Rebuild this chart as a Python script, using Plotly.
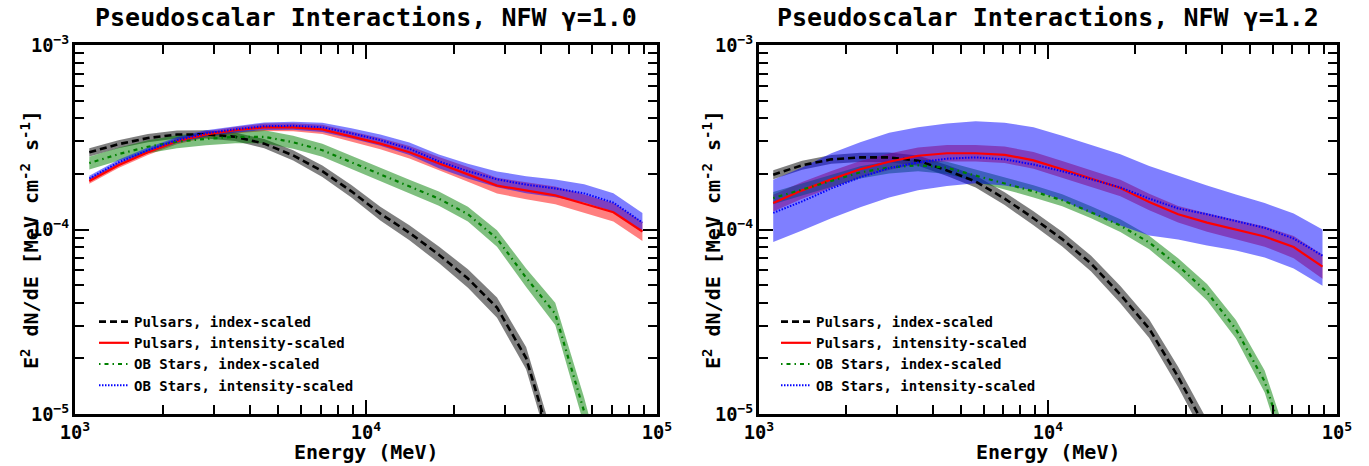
import plotly.graph_objects as go

FONT = "DejaVu Sans Mono"

# Energy grid (MeV)
energy = [1120, 1410, 1780, 2240, 2820, 3550, 4470, 5620, 7080, 8910,
          11200, 14100, 17800, 22400, 28200, 35500, 44700, 56200, 70800, 89100]

# ---- Left panel: NFW gamma = 1.0 ----
L_psr_idx = [2.62e-4, 2.90e-4, 3.13e-4, 3.27e-4, 3.28e-4, 3.18e-4, 2.92e-4, 2.52e-4, 2.07e-4, 1.61e-4,
             1.22e-4, 9.6e-5, 7.3e-5, 5.42e-5, 3.77e-5, 2.01e-5, 5.9e-6, 1.4e-6, 4e-7, 1e-7]
L_psr_int = [1.83e-4, 2.23e-4, 2.62e-4, 3.01e-4, 3.28e-4, 3.45e-4, 3.58e-4, 3.58e-4, 3.49e-4, 3.20e-4,
             2.92e-4, 2.62e-4, 2.27e-4, 1.99e-4, 1.73e-4, 1.62e-4, 1.53e-4, 1.38e-4, 1.24e-4, 9.75e-5]
L_ob_idx = [2.29e-4, 2.56e-4, 2.81e-4, 2.99e-4, 3.10e-4, 3.18e-4, 3.18e-4, 2.97e-4, 2.69e-4, 2.31e-4,
            1.99e-4, 1.71e-4, 1.47e-4, 1.21e-4, 8.93e-5, 5.48e-5, 3.49e-5, 1.03e-5, 2.6e-6, 6.6e-7]
L_ob_int = [1.89e-4, 2.31e-4, 2.69e-4, 3.05e-4, 3.32e-4, 3.49e-4, 3.63e-4, 3.65e-4, 3.58e-4, 3.32e-4,
            3.05e-4, 2.74e-4, 2.34e-4, 2.07e-4, 1.87e-4, 1.75e-4, 1.67e-4, 1.57e-4, 1.40e-4, 1.09e-4]
# band half-widths (dex)
L_psr_idx_w = [0.022, 0.022, 0.022, 0.022, 0.022, 0.023, 0.025, 0.028, 0.031, 0.034,
               0.037, 0.041, 0.045, 0.05, 0.055, 0.06, 0.065, 0.07, 0.07, 0.07]
L_psr_int_w = [0.015, 0.015, 0.015, 0.016, 0.017, 0.018, 0.02, 0.022, 0.025, 0.028,
               0.031, 0.034, 0.037, 0.04, 0.043, 0.046, 0.048, 0.05, 0.05, 0.052]
L_ob_idx_w = [0.035, 0.035, 0.035, 0.035, 0.035, 0.035, 0.035, 0.035, 0.035, 0.035,
              0.036, 0.037, 0.038, 0.04, 0.045, 0.05, 0.06, 0.075, 0.08, 0.08]
L_ob_int_w = [0.015, 0.015, 0.015, 0.016, 0.017, 0.018, 0.02, 0.022, 0.025, 0.028,
              0.031, 0.034, 0.037, 0.04, 0.043, 0.046, 0.048, 0.05, 0.05, 0.052]

# ---- Right panel: NFW gamma = 1.2 ----
R_psr_idx = [1.98e-4, 2.23e-4, 2.40e-4, 2.46e-4, 2.46e-4, 2.36e-4, 2.09e-4, 1.82e-4, 1.47e-4, 1.15e-4,
             8.87e-5, 6.53e-5, 4.44e-5, 2.90e-5, 1.59e-5, 8.1e-6, 3.4e-6, 1.2e-6, 4e-7, 1.2e-7]
R_psr_int = [1.39e-4, 1.63e-4, 1.87e-4, 2.12e-4, 2.33e-4, 2.51e-4, 2.59e-4, 2.59e-4, 2.54e-4, 2.37e-4,
             2.12e-4, 1.89e-4, 1.68e-4, 1.41e-4, 1.21e-4, 1.09e-4, 1.00e-4, 9.16e-5, 8.03e-5, 6.29e-5]
R_ob_idx = [1.48e-4, 1.65e-4, 1.84e-4, 2.04e-4, 2.17e-4, 2.23e-4, 2.16e-4, 1.96e-4, 1.78e-4, 1.61e-4,
            1.44e-4, 1.24e-4, 1.05e-4, 8.5e-5, 6.37e-5, 4.57e-5, 2.88e-5, 1.50e-5, 4.9e-6, 1.6e-6]
R_ob_int = [1.23e-4, 1.42e-4, 1.67e-4, 1.92e-4, 2.15e-4, 2.31e-4, 2.42e-4, 2.46e-4, 2.40e-4, 2.25e-4,
            2.07e-4, 1.88e-4, 1.69e-4, 1.47e-4, 1.30e-4, 1.21e-4, 1.11e-4, 1.02e-4, 8.93e-5, 7.22e-5]
R_psr_idx_w = [0.024, 0.024, 0.024, 0.025, 0.026, 0.028, 0.03, 0.032, 0.035, 0.038,
               0.04, 0.043, 0.047, 0.05, 0.055, 0.06, 0.065, 0.07, 0.07, 0.07]
R_psr_int_w = [0.045, 0.045, 0.045, 0.045, 0.045, 0.045, 0.045, 0.045, 0.045, 0.045,
               0.045, 0.045, 0.045, 0.045, 0.045, 0.05, 0.052, 0.055, 0.06, 0.065]
R_ob_idx_w = [0.033, 0.033, 0.033, 0.033, 0.033, 0.033, 0.033, 0.033, 0.033, 0.033,
              0.033, 0.033, 0.035, 0.037, 0.04, 0.045, 0.05, 0.06, 0.07, 0.07]
R_ob_int_hi = [1.86e-4, 2.17e-4, 2.59e-4, 2.97e-4, 3.34e-4, 3.58e-4, 3.76e-4, 3.86e-4, 3.79e-4, 3.58e-4,
               3.22e-4, 2.88e-4, 2.56e-4, 2.21e-4, 1.96e-4, 1.73e-4, 1.55e-4, 1.39e-4, 1.22e-4, 1.00e-4]
R_ob_int_lo = [8.55e-5, 9.88e-5, 1.15e-4, 1.32e-4, 1.49e-4, 1.63e-4, 1.72e-4, 1.78e-4, 1.73e-4, 1.63e-4,
               1.44e-4, 1.22e-4, 1.05e-4, 9.27e-5, 8.82e-5, 8.19e-5, 7.69e-5, 7.05e-5, 6.14e-5, 4.96e-5]

labels = ["Pulsars, index-scaled", "Pulsars, intensity-scaled",
          "OB Stars, index-scaled", "OB Stars, intensity-scaled"]
titles = ["Pseudoscalar Interactions, NFW \u03b3=1.0", "Pseudoscalar Interactions, NFW \u03b3=1.2"]

line_colors = ["black", "red", "green", "blue"]
band_colors = ["rgba(0,0,0,0.5)", "rgba(255,0,0,0.5)", "rgba(0,128,0,0.5)", "rgba(0,0,255,0.5)"]
dashes = ["7px,4px", "solid", "1.5px,4px,4px,4px", "1.5px,1.5px"]
widths = [2.6, 2.2, 2.2, 2.0]

fig = go.Figure()


def bounds(mid, w):
    lo = [m / 10 ** d for m, d in zip(mid, w)]
    hi = [m * 10 ** d for m, d in zip(mid, w)]
    return lo, hi


panels = [
    dict(xa="x", ya="y", leg="legend",
         mids=[L_psr_idx, L_psr_int, L_ob_idx, L_ob_int],
         bands=[bounds(L_psr_idx, L_psr_idx_w), bounds(L_psr_int, L_psr_int_w),
                bounds(L_ob_idx, L_ob_idx_w), bounds(L_ob_int, L_ob_int_w)]),
    dict(xa="x2", ya="y2", leg="legend2",
         mids=[R_psr_idx, R_psr_int, R_ob_idx, R_ob_int],
         bands=[bounds(R_psr_idx, R_psr_idx_w), bounds(R_psr_int, R_psr_int_w),
                bounds(R_ob_idx, R_ob_idx_w), (R_ob_int_lo, R_ob_int_hi)]),
]

for p in panels:
    for i, (lo, hi) in enumerate(p["bands"]):
        fig.add_trace(go.Scatter(
            x=energy + energy[::-1], y=hi + lo[::-1], fill="toself",
            fillcolor=band_colors[i], line=dict(width=0), mode="lines",
            showlegend=False, hoverinfo="skip", xaxis=p["xa"], yaxis=p["ya"]))
    for i, mid in enumerate(p["mids"]):
        fig.add_trace(go.Scatter(
            x=energy, y=mid, mode="lines", name=labels[i],
            line=dict(color=line_colors[i], dash=dashes[i], width=widths[i]),
            xaxis=p["xa"], yaxis=p["ya"], legend=p["leg"]))

tickfont = dict(family=FONT, size=15, color="black", weight="bold")


def axis(kind, domain=None, anchor=None):
    d = dict(type="log", dtick=1, exponentformat="power", showline=True, linewidth=2.5,
             linecolor="black", mirror="allticks", ticks="inside", ticklen=14, tickwidth=2,
             tickcolor="black", showgrid=False, zeroline=False, tickfont=tickfont,
             minor=dict(ticks="inside", ticklen=9, tickwidth=1.8, tickcolor="black",
                        dtick="D1", showgrid=False))
    if kind == "x":
        d["range"] = [3, 5]
        d["domain"] = domain
    else:
        d["range"] = [-5, -3]
    d["anchor"] = anchor
    return d


W, H = 1369, 466
ml, mr, mt, mb = 75, 32, 45, 52
pw = W - ml - mr
ph = H - mt - mb


def px_x(x):
    return (x - ml) / pw


def px_y(y):
    return (H - mb - y) / ph


dom1 = [0, px_x(657)]
dom2 = [px_x(759), 1]

legfont = dict(family=FONT, size=14, color="black", weight="bold")
fig.update_layout(
    width=W, height=H, margin=dict(l=ml, r=mr, t=mt, b=mb),
    paper_bgcolor="white", plot_bgcolor="white",
    xaxis=axis("x", dom1, "y"), yaxis=axis("y", anchor="x"),
    xaxis2=axis("x", dom2, "y2"), yaxis2=axis("y", anchor="x2"),
    legend=dict(x=px_x(94), y=px_y(306), xanchor="left", yanchor="top",
                bgcolor="rgba(0,0,0,0)", borderwidth=0, tracegroupgap=0, font=legfont),
    legend2=dict(x=px_x(776), y=px_y(306), xanchor="left", yanchor="top",
                 bgcolor="rgba(0,0,0,0)", borderwidth=0, tracegroupgap=0, font=legfont),
    showlegend=True,
)

title_font = dict(family=FONT, size=25, color="black", weight="bold")
label_font = dict(family=FONT, size=20, color="black", weight="bold")
ylab = "E<sup>2</sup> dN/dE [MeV cm<sup>-2</sup> s<sup>-1</sup>]"
centers = [(75 + 657) / 2, (759 + 1337) / 2]
ylab_x = [30, 712]
for k in range(2):
    fig.add_annotation(text=titles[k], xref="paper", yref="paper",
                       x=px_x(centers[k]), y=px_y(17), xanchor="center", yanchor="middle",
                       showarrow=False, font=title_font)
    fig.add_annotation(text="Energy (MeV)", xref="paper", yref="paper",
                       x=px_x(centers[k]), y=px_y(452), xanchor="center", yanchor="middle",
                       showarrow=False, font=label_font)
    fig.add_annotation(text=ylab, xref="paper", yref="paper", textangle=-90,
                       x=px_x(ylab_x[k]), y=px_y(240), xanchor="center", yanchor="middle",
                       showarrow=False, font=label_font)

fig.write_html("out.html", config={"displayModeBar": False},
               post_script="document.body.style.margin='0';document.body.style.overflow='hidden';")
